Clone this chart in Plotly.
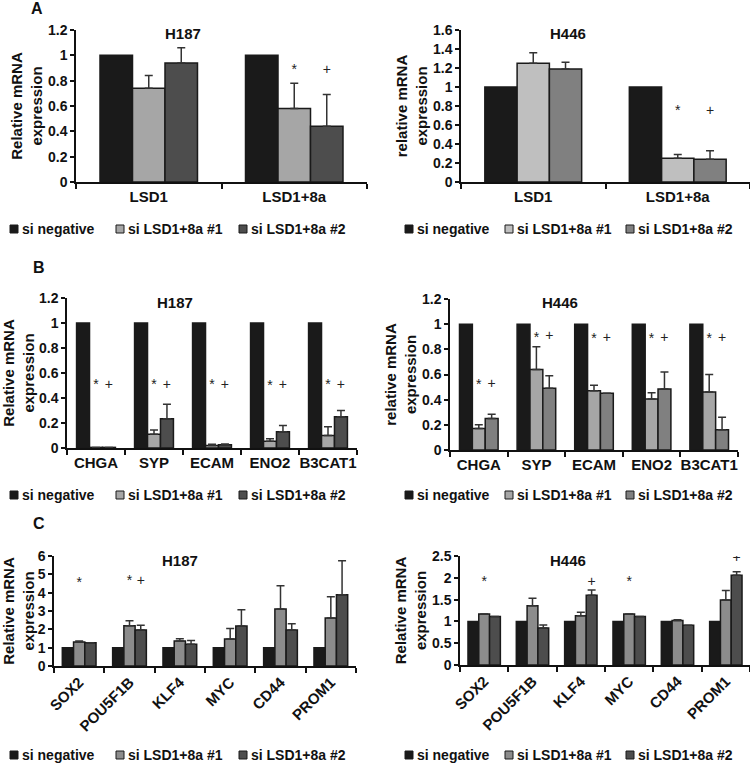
import plotly.graph_objects as go

SERIES = ["si negative", "si LSD1+8a #1", "si LSD1+8a #2"]

A_GENES = ["LSD1", "LSD1+8a"]
B_GENES = ["CHGA", "SYP", "ECAM", "ENO2", "B3CAT1"]
C_GENES = ["SOX2", "POU5F1B", "KLF4", "MYC", "CD44", "PROM1"]

# A, H187
A187_NEG = [1.0, 1.0]
A187_SI1 = [0.74, 0.58]
A187_SI1_ERR = [0.10, 0.20]
A187_SI2 = [0.94, 0.44]
A187_SI2_ERR = [0.12, 0.25]
A187_STAR = [None, 0.88]
A187_PLUS = [None, 0.88]

# A, H446
A446_NEG = [1.0, 1.0]
A446_SI1 = [1.25, 0.25]
A446_SI1_ERR = [0.11, 0.04]
A446_SI2 = [1.19, 0.24]
A446_SI2_ERR = [0.07, 0.09]
A446_STAR = [None, 0.74]
A446_PLUS = [None, 0.74]

# B, H187
B187_NEG = [1.0, 1.0, 1.0, 1.0, 1.0]
B187_SI1 = [0.005, 0.11, 0.02, 0.055, 0.10]
B187_SI1_ERR = [0.0, 0.035, 0.01, 0.02, 0.07]
B187_SI2 = [0.005, 0.235, 0.027, 0.13, 0.25]
B187_SI2_ERR = [0.0, 0.115, 0.005, 0.05, 0.05]
B187_STAR = [0.5, 0.5, 0.5, 0.49, 0.5]
B187_PLUS = [0.5, 0.5, 0.5, 0.5, 0.5]

# B, H446
B446_NEG = [1.0, 1.0, 1.0, 1.0, 1.0]
B446_SI1 = [0.17, 0.64, 0.47, 0.405, 0.46]
B446_SI1_ERR = [0.03, 0.18, 0.045, 0.05, 0.14]
B446_SI2 = [0.25, 0.49, 0.45, 0.485, 0.16]
B446_SI2_ERR = [0.035, 0.10, 0.0, 0.135, 0.10]
B446_STAR = [0.51, 0.89, 0.88, 0.88, 0.88]
B446_PLUS = [0.52, 0.9, 0.89, 0.89, 0.89]

# C, H187
C187_NEG = [1.0, 1.0, 1.0, 1.0, 1.0, 1.0]
C187_SI1 = [1.31, 2.19, 1.37, 1.47, 3.11, 2.62]
C187_SI1_ERR = [0.05, 0.28, 0.12, 0.57, 1.27, 1.16]
C187_SI2 = [1.27, 1.97, 1.19, 2.18, 1.96, 3.89]
C187_SI2_ERR = [0.0, 0.25, 0.2, 0.89, 0.35, 1.85]
C187_STAR = [4.5, 4.6, None, None, None, None]
C187_PLUS = [None, 4.6, None, None, None, None]

# C, H446
C446_NEG = [1.0, 1.0, 1.0, 1.0, 1.0, 1.0]
C446_SI1 = [1.17, 1.36, 1.13, 1.17, 1.02, 1.49]
C446_SI1_ERR = [0.0, 0.17, 0.08, 0.0, 0.02, 0.22]
C446_SI2 = [1.11, 0.85, 1.60, 1.11, 0.91, 2.06]
C446_SI2_ERR = [0.0, 0.07, 0.12, 0.0, 0.0, 0.08]
C446_STAR = [1.9, None, None, 1.9, None, None]
C446_PLUS = [None, None, 1.9, None, None, 2.45]

FONT = "Liberation Sans, Arial, sans-serif"
INK = "#111111"
W, H = 750, 763
LEFT_KEYS = (10, 116, 239)
RIGHT_KEYS = (405, 505, 626)

panels = [
    dict(genes=A_GENES, vals=(A187_NEG, A187_SI1, A187_SI2), errs=(A187_SI1_ERR, A187_SI2_ERR),
         marks=(A187_STAR, A187_PLUS), colors=("#1a1a1a", "#a6a6a6", "#4d4d4d"),
         title="H187", ytitle="Relative mRNA<br>expression", yrange=(0, 1.2), dtick=0.2,
         xpx=(76, 367), ypx=(182, 30), title_px=(183, 33), keys=LEFT_KEYS, key_y=229, angle=0),
    dict(genes=A_GENES, vals=(A446_NEG, A446_SI1, A446_SI2), errs=(A446_SI1_ERR, A446_SI2_ERR),
         marks=(A446_STAR, A446_PLUS), colors=("#1a1a1a", "#bfbfbf", "#808080"),
         title="H446", ytitle="relative mRNA<br>expression", yrange=(0, 1.6), dtick=0.2,
         xpx=(461, 750), ypx=(182, 30), title_px=(568, 33), keys=RIGHT_KEYS, key_y=229, angle=0),
    dict(genes=B_GENES, vals=(B187_NEG, B187_SI1, B187_SI2), errs=(B187_SI1_ERR, B187_SI2_ERR),
         marks=(B187_STAR, B187_PLUS), colors=("#1a1a1a", "#a6a6a6", "#4d4d4d"),
         title="H187", ytitle="Relative mRNA<br>expression", yrange=(0, 1.2), dtick=0.2,
         xpx=(67, 357), ypx=(448, 298), title_px=(175, 302), keys=LEFT_KEYS, key_y=495, angle=0),
    dict(genes=B_GENES, vals=(B446_NEG, B446_SI1, B446_SI2), errs=(B446_SI1_ERR, B446_SI2_ERR),
         marks=(B446_STAR, B446_PLUS), colors=("#1a1a1a", "#a6a6a6", "#808080"),
         title="H446", ytitle="relative mRNA<br>expression", yrange=(0, 1.2), dtick=0.2,
         xpx=(450, 738), ypx=(450, 299), title_px=(560, 302), keys=RIGHT_KEYS, key_y=495, angle=0),
    dict(genes=C_GENES, vals=(C187_NEG, C187_SI1, C187_SI2), errs=(C187_SI1_ERR, C187_SI2_ERR),
         marks=(C187_STAR, C187_PLUS), colors=("#1a1a1a", "#8c8c8c", "#4d4d4d"),
         title="H187", ytitle="Relative mRNA<br>expression", yrange=(0, 6), dtick=1,
         xpx=(54, 356), ypx=(666, 556), title_px=(180, 560), keys=LEFT_KEYS, key_y=755, angle=-45),
    dict(genes=C_GENES, vals=(C446_NEG, C446_SI1, C446_SI2), errs=(C446_SI1_ERR, C446_SI2_ERR),
         marks=(C446_STAR, C446_PLUS), colors=("#1a1a1a", "#8c8c8c", "#4d4d4d"),
         title="H446", ytitle="Relative mRNA<br>expression", yrange=(0, 2.5), dtick=0.5,
         xpx=(460, 750), ypx=(665, 556), title_px=(568, 560), keys=RIGHT_KEYS, key_y=755, angle=-45),
]

fig = go.Figure()
annotations = []
shapes = []
for i, p in enumerate(panels, start=1):
    sfx = "" if i == 1 else str(i)
    xa, ya = "x" + sfx, "y" + sfx
    for k, name in enumerate(SERIES):
        err = None
        if k > 0:
            err = dict(type="data", array=p["errs"][k - 1], arrayminus=[0] * len(p["genes"]),
                       symmetric=False, color="#333333", thickness=1.5, width=4)
        fig.add_trace(go.Bar(
            x=p["genes"], y=p["vals"][k], name=name, xaxis=xa, yaxis=ya, showlegend=False,
            offsetgroup=str(k), alignmentgroup="g" + sfx,
            marker=dict(color=p["colors"][k], line=dict(color="#1a1a1a", width=1.5)),
            error_y=err,
        ))
    # significance marks, aligned with the bar groups
    for k, (ys, sym) in enumerate([([None] * len(p["genes"]), ""), (p["marks"][0], "*"), (p["marks"][1], "+")]):
        fig.add_trace(go.Scatter(
            x=p["genes"], y=ys, mode="text", text=[sym] * len(p["genes"]),
            textfont=dict(family=FONT, size=14, color="#222222"),
            xaxis=xa, yaxis=ya, offsetgroup=str(k), alignmentgroup="g" + sfx,
            showlegend=False, hoverinfo="skip",
        ))
    x0, x1 = p["xpx"]
    yb, yt = p["ypx"]
    fig.layout["xaxis" + sfx] = dict(
        domain=[x0 / W, x1 / W], anchor=ya, type="category", showline=True, linecolor=INK,
        linewidth=1.5, ticks="outside", tickson="boundaries", ticklen=5, tickwidth=1.5,
        tickcolor=INK, tickangle=p["angle"], showgrid=False, zeroline=False, automargin=False,
        tickfont=dict(family=FONT, size=15, color=INK, weight="bold"),
    )
    fig.layout["yaxis" + sfx] = dict(
        domain=[1 - yb / H, 1 - yt / H], anchor=xa, range=list(p["yrange"]), dtick=p["dtick"],
        showline=True, linecolor=INK, linewidth=1.5, ticks="outside", ticklen=4,
        tickwidth=1.5, tickcolor=INK, showgrid=False, zeroline=False, automargin=False,
        tickfont=dict(family=FONT, size=14, color=INK, weight="bold"),
        title=dict(text=p["ytitle"], standoff=2,
                   font=dict(family=FONT, size=15, color=INK, weight="bold")),
    )
    tx, ty = p["title_px"]
    annotations.append(dict(
        text=p["title"], x=tx / W, y=1 - ty / H, xref="paper", yref="paper", showarrow=False,
        xanchor="center", yanchor="middle",
        font=dict(family=FONT, size=15, color=INK, weight="bold"),
    ))
    # key below each panel
    ky = p["key_y"]
    for kx, name, col in zip(p["keys"], SERIES, p["colors"]):
        shapes.append(dict(
            type="rect", xref="paper", yref="paper",
            x0=kx / W, x1=(kx + 8) / W, y0=1 - (ky + 4) / H, y1=1 - (ky - 4) / H,
            fillcolor=col, line=dict(color="#1a1a1a", width=1),
        ))
        annotations.append(dict(
            text=name, x=(kx + 10) / W, y=1 - ky / H, xref="paper", yref="paper",
            xanchor="left", yanchor="middle", showarrow=False,
            font=dict(family=FONT, size=14, color=INK, weight="bold"),
        ))

for letter, (lx, ly) in zip("ABC", [(37, 9), (39, 268), (39, 523)]):
    annotations.append(dict(
        text=letter, x=lx / W, y=1 - ly / H, xref="paper", yref="paper", showarrow=False,
        xanchor="center", yanchor="middle",
        font=dict(family=FONT, size=16, color=INK, weight="bold"),
    ))

fig.update_layout(
    width=W, height=H, margin=dict(l=0, r=0, t=0, b=0),
    paper_bgcolor="white", plot_bgcolor="white", showlegend=False,
    barmode="group", bargap=0.33, bargroupgap=0,
    scattermode="group", scattergap=0.33,
    annotations=annotations, shapes=shapes, font=dict(family=FONT),
)

# the page's default body margin would push the figure 8px off the window
fig.write_html("out.html", config={"displayModeBar": False},
               post_script="document.body.style.margin = '0';")
